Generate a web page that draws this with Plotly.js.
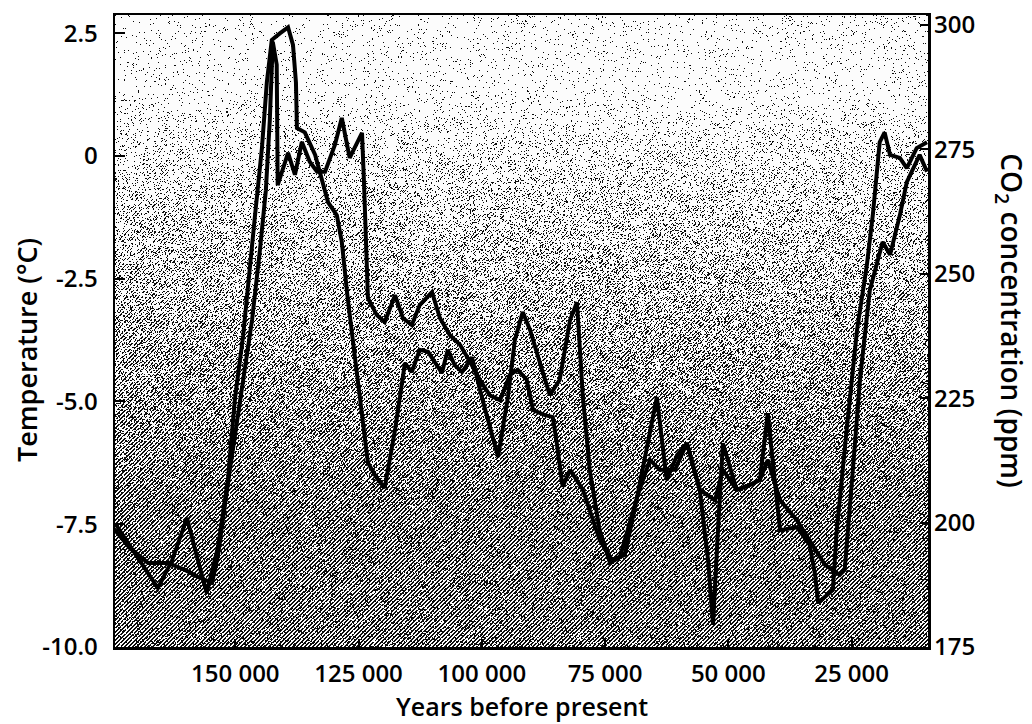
<!DOCTYPE html>
<html><head><meta charset="utf-8">
<script src="https://cdn.plot.ly/plotly-3.0.1.min.js"></script>
<style>html,body{margin:0;padding:0;background:#fff}#chart{width:1032px;height:724px}</style>
</head><body><div id="chart"></div>
<script>
// Temperature record (°C, left axis)
const yearsTemp = [174400,170400,165700,162800,159800,157600,155800,153500,151500,150100,148400,146000,144600,143600,142600,140900,139300,138300,137700,137500,135900,133800,132200,131200,129400,128400,127200,126300,124700,123100,121300,119700,117600,115600,114200,112600,110900,108100,106900,105500,104000,102000,100000,98400,96700,94700,93300,91700,90200,88200,86200,84200,82100,80700,79500,78100,76100,74000,72000,68500,64500,62500,60400,58400,55800,54100,53100,52100,51100,48300,45600,43600,42000,40600,39500,36100,33500,32400,31800,28800,28000,26000,24700,23900,21900,20700,19300,18300,17200,15200,13800,11800,9700];
const temperature = [-7.48,-8.09,-8.80,-8.23,-7.37,-8.23,-8.90,-7.96,-6.60,-4.97,-3.65,-1.21,0.16,1.50,2.36,2.50,2.62,2.26,1.50,0.57,0.48,0.02,-0.53,-0.94,-1.21,-1.75,-2.90,-3.65,-4.97,-6.25,-6.56,-6.76,-5.58,-4.22,-4.40,-3.95,-3.99,-4.42,-3.95,-4.26,-4.40,-4.10,-4.91,-5.48,-6.13,-4.91,-3.75,-3.18,-3.55,-4.22,-4.87,-4.56,-3.34,-2.98,-4.91,-6.40,-7.62,-8.29,-8.17,-6.95,-4.91,-6.60,-6.09,-5.85,-6.80,-8.23,-9.55,-7.62,-5.85,-6.80,-6.70,-6.60,-5.24,-6.60,-7.62,-7.56,-7.92,-8.53,-9.10,-8.84,-7.62,-5.58,-4.22,-3.55,-2.22,-1.21,0.28,0.48,0.02,-0.04,-0.25,0.16,0.28];

// CO2 record (ppm, right axis)
const yearsCO2 = [174400,171400,167700,163700,160200,157600,154700,153500,151100,149100,146600,145000,143800,143000,142400,141600,141400,139300,137900,136500,134900,133400,131800,129800,128400,126800,124300,123900,123500,123100,121300,119700,117600,116000,114200,112600,110100,108500,106500,104400,102400,100400,98400,96300,94300,92700,90900,89600,87200,85600,84800,83600,82100,79500,76100,73600,71000,68500,65900,63900,60800,58400,55800,52700,51100,48300,45600,43600,42000,39500,36100,33500,30400,27400,26400,24900,23300,21300,18700,17200,15200,13800,11200,9700];
const co2 = [198.5,194.9,191.9,191.9,190.5,189.1,187.9,193.5,210.6,224.6,240.7,254.8,266.8,280.9,296.6,292.0,267.8,274.3,269.9,276.5,272.5,270.5,270.5,275.9,281.3,273.3,278.3,268.4,258.4,245.1,241.7,240.3,245.7,241.1,239.7,243.7,246.3,241.1,237.7,235.7,232.3,228.7,225.6,224.6,229.7,230.7,228.7,222.6,221.6,221.2,216.0,207.2,210.6,206.6,196.5,192.5,193.5,205.1,212.6,210.6,210.6,216.0,206.6,204.5,210.6,206.6,207.6,208.6,212.6,204.5,200.5,196.5,191.5,189.5,190.5,208.6,228.7,246.7,256.4,253.8,261.8,268.4,273.9,270.5];

const xTickVals = [150000,125000,100000,75000,50000,25000];
const xTickText = ['150 000','125 000','100 000','75 000','50 000','25 000'];
const tTickVals = [2.5,0,-2.5,-5,-7.5,-10];
const tTickText = ['2.5','0','-2.5','-5.0','-7.5','-10.0'];
const cTickVals = [300,275,250,225,200,175];
const cTickText = ['300','275','250','225','200','175'];

const W = 1032, H = 724;
const M = {l:115, r:104, t:15, b:77};
const PW = W - M.l - M.r, PH = H - M.t - M.b;

function hash(x, y){
  let h = Math.imul(x, 374761393) + Math.imul(y, 668265263);
  h = Math.imul(h ^ (h >>> 13), 1274126177);
  h ^= h >>> 16;
  return ((h >>> 0) % 10000) / 10000;
}
function texture(w, h){
  const c = document.createElement('canvas'); c.width = w; c.height = h;
  const ctx = c.getContext('2d');
  const img = ctx.createImageData(w, h); const d = img.data;
  for (let y = 0; y < h; y++){
    const f = y / h;
    const dens = Math.min(1, Math.max(0, (f - 0.12) / 0.66));
    for (let x = 0; x < w; x++){
      const on = ((x + y) % 4) < 2;
      const p = on ? 0.04 + 0.9 * dens : 0.03 + 0.1 * dens;
      const r = hash(x, y);
      const v = r < p ? 12 : 252;
      const i = (y * w + x) * 4;
      d[i] = d[i+1] = d[i+2] = v; d[i+3] = 255;
    }
  }
  ctx.putImageData(img, 0, 0);
  return c.toDataURL('image/png');
}

const FAM = '"Open Sans", "Noto Sans", sans-serif';
const tickFont = {family: FAM, size: 24, color: '#000', weight: 600};
const titleFont = {family: FAM, size: 25, color: '#000', weight: 600};
const leftFont = {family: FAM, size: 27, color: '#000', weight: 600};
const rightFont = {family: FAM, size: 28, color: '#000', weight: 600};

const traces = [
  {x: yearsTemp, y: temperature, type: 'scatter', mode: 'lines', yaxis: 'y',
   line: {color: '#000', width: 4}, hoverinfo: 'skip', showlegend: false},
  {x: yearsCO2, y: co2, type: 'scatter', mode: 'lines', yaxis: 'y2',
   line: {color: '#000', width: 4}, hoverinfo: 'skip', showlegend: false}
];

const layout = {
  width: W, height: H,
  margin: M,
  paper_bgcolor: '#fff',
  plot_bgcolor: 'rgba(0,0,0,0)',
  font: tickFont,
  showlegend: false,
  xaxis: {
    range: [174400, 9500], showgrid: false, zeroline: false,
    showline: true, linecolor: '#000', linewidth: 2.5, mirror: true,
    ticks: 'inside', ticklen: 8, tickwidth: 2, tickcolor: '#000',
    tickvals: xTickVals, ticktext: xTickText, ticklabelstandoff: 4,
    tickfont: tickFont
  },
  yaxis: {
    range: [-10, 2.87], showgrid: false, zeroline: false,
    showline: true, linecolor: '#000', linewidth: 2.5, mirror: true,
    ticks: 'inside', ticklen: 10, tickwidth: 2, tickcolor: '#000',
    tickvals: tTickVals, ticktext: tTickText, ticklabelstandoff: 10,
    tickfont: tickFont
  },
  yaxis2: {
    range: [175, 302], overlaying: 'y', side: 'right', showgrid: false, zeroline: false,
    showline: false, ticks: 'inside', ticklen: 8, tickwidth: 2, tickcolor: '#000',
    tickvals: cTickVals, ticktext: cTickText, ticklabelstandoff: 5,
    tickfont: tickFont
  },
  images: [{
    source: texture(PW, PH), xref: 'paper', yref: 'paper', x: 0, y: 1,
    sizex: 1, sizey: 1, xanchor: 'left', yanchor: 'top', sizing: 'stretch', layer: 'below'
  }],
  annotations: [
    {text: 'Years before present', xref: 'paper', yref: 'paper', x: 0.5, y: 0,
     yshift: -59, xanchor: 'center', yanchor: 'middle', showarrow: false, font: titleFont},
    {text: 'Temperature (°C)', xref: 'paper', yref: 'paper', x: 0, y: 0.47,
     xshift: -88, xanchor: 'center', yanchor: 'middle', textangle: -90, showarrow: false, font: leftFont},
    {text: 'CO<sub>2</sub> concentration (ppm)', xref: 'paper', yref: 'paper', x: 1, y: 0.517,
     xshift: 82, xanchor: 'center', yanchor: 'middle', textangle: 90, showarrow: false, font: rightFont}
  ]
};

Plotly.newPlot('chart', traces, layout, {staticPlot: true, displayModeBar: false});
</script>
</body></html>
